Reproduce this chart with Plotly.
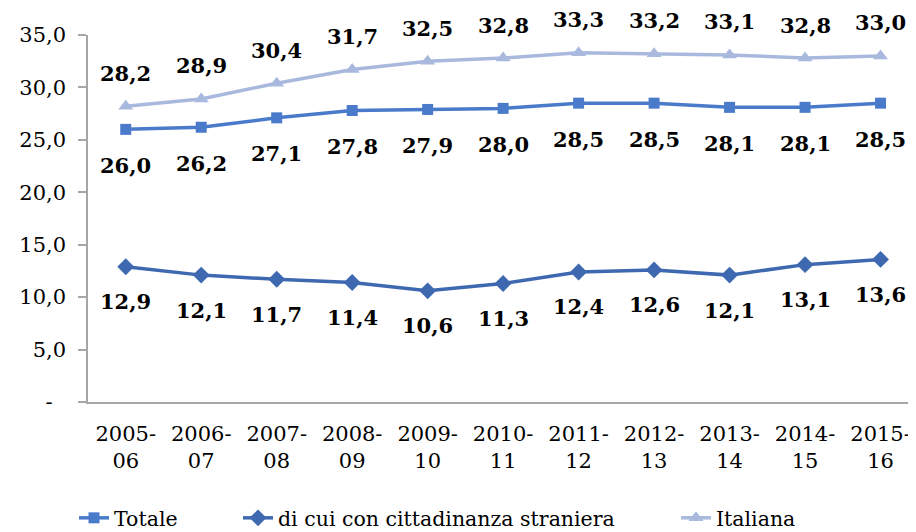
import plotly.graph_objects as go

categories = ["2005-06", "2006-07", "2007-08", "2008-09", "2009-10", "2010-11",
              "2011-12", "2012-13", "2013-14", "2014-15", "2015-16"]
totale = [26.0, 26.2, 27.1, 27.8, 27.9, 28.0, 28.5, 28.5, 28.1, 28.1, 28.5]
straniera = [12.9, 12.1, 11.7, 11.4, 10.6, 11.3, 12.4, 12.6, 12.1, 13.1, 13.6]
italiana = [28.2, 28.9, 30.4, 31.7, 32.5, 32.8, 33.3, 33.2, 33.1, 32.8, 33.0]
y_ticks = [0, 5, 10, 15, 20, 25, 30, 35]

W, H = 908, 524  # page body adds an 8px offset

series = [
    ("Totale", totale, "#4a7bcb", "square", 11, -36),
    ("di cui con cittadinanza straniera", straniera, "#3e69b0", "diamond", 13, -35),
    ("Italiana", italiana, "#a9b9de", "triangle-up", 13, 33),
]

FONT = "DejaVu Serif"

def fmt(v):
    return f"{v:.1f}".replace(".", ",")

fig = go.Figure()
annotations = []
legend_left = [66, 230, 668]
for i, (name, vals, color, sym, msize, shift) in enumerate(series):
    lg = "legend" if i == 0 else f"legend{i+1}"
    fig.add_trace(go.Scatter(
        x=categories, y=vals, name=name, mode="lines+markers",
        line=dict(color=color, width=3.5),
        marker=dict(symbol=sym, size=msize, color=color),
        legend=lg,
    ))
    for c, v in zip(categories, vals):
        annotations.append(dict(
            x=c, y=v, xref="x", yref="y", text=fmt(v), showarrow=False,
            yshift=shift,
            font=dict(family=FONT, size=21, color="#000000", weight="bold"),
        ))
    fig.update_layout({lg: dict(
        x=legend_left[i] / W, xref="container", xanchor="left",
        y=14 / H, yref="container", yanchor="middle",
        orientation="h", bgcolor="rgba(0,0,0,0)",
        font=dict(family=FONT, size=20.5, color="#000000"),
    )})

ticktext = ["-\u00a0\u00a0"] + [fmt(v) for v in y_ticks[1:]]

fig.update_layout(
    width=W, height=H,
    margin=dict(l=80, r=0, t=27, b=130.3, pad=0),
    paper_bgcolor="white", plot_bgcolor="white",
    showlegend=True,
    annotations=annotations,
    font=dict(family=FONT, color="#000000"),
    xaxis=dict(
        type="category", range=[-0.5, 10.47],
        tickvals=categories, ticktext=[c.replace("-", "-<br>") for c in categories],
        showline=True, linecolor="#a6a6a6", linewidth=1.5,
        showgrid=False, ticks="", ticklabelstandoff=12,
        tickfont=dict(family=FONT, size=21, color="#000000"),
    ),
    yaxis=dict(
        range=[0, 35], tickvals=y_ticks, ticktext=ticktext,
        showline=True, linecolor="#a6a6a6", linewidth=1.5,
        showgrid=False, zeroline=False, ticks="outside", ticklen=8,
        tickcolor="#a6a6a6", tickwidth=1.5, ticklabelstandoff=8,
        tickfont=dict(family=FONT, size=21, color="#000000"),
    ),
)

fig.write_html("out.html")
